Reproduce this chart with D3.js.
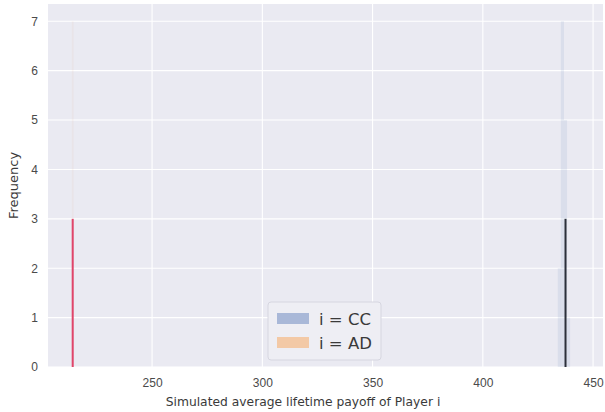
<!DOCTYPE html>
<html>
<head>
<meta charset="utf-8">
<script src="https://cdn.jsdelivr.net/npm/d3@7"></script>
<style>
  html, body { margin: 0; padding: 0; background: #ffffff; }
  svg { display: block; font-family: "DejaVu Sans", sans-serif; }
</style>
</head>
<body>
<svg id="chart" width="605" height="412"></svg>
<script>
// Histogram of simulated average lifetime payoffs for two strategies
const ccBinEdges = [434.0, 435.4, 436.8, 438.2, 439.6];
const ccCounts   = [2, 7, 5, 1];
const adBinEdges = [213.6, 214.4];
const adCounts   = [7];
const ccMean = 437.5;
const adMean = 214.0;
const meanLineHeight = 3;

const xTicks = [250, 300, 350, 400, 450];
const yTicks = [0, 1, 2, 3, 4, 5, 6, 7];
const legendLabels = ["i = CC", "i = AD"];

const plot = { left: 48, right: 603, top: 4, bottom: 367 };

const svg = d3.select("#chart");

const x = d3.scaleLinear().domain([202.8, 454.5]).range([plot.left, plot.right]);
const y = d3.scaleLinear().domain([0, 7.35]).range([plot.bottom, plot.top]);

// plot background
svg.append("rect")
  .attr("x", plot.left).attr("y", plot.top)
  .attr("width", plot.right - plot.left).attr("height", plot.bottom - plot.top)
  .attr("fill", "#eaeaf2");

// gridlines
const grid = svg.append("g");
grid.selectAll("line.gx").data(xTicks).join("line")
  .attr("x1", d => x(d)).attr("x2", d => x(d))
  .attr("y1", plot.top).attr("y2", plot.bottom)
  .attr("stroke", "#ffffff").attr("stroke-width", 1.1);
grid.selectAll("line.gy").data(yTicks).join("line")
  .attr("x1", plot.left).attr("x2", plot.right)
  .attr("y1", d => y(d)).attr("y2", d => y(d))
  .attr("stroke", "#ffffff").attr("stroke-width", 1.1);

// histogram bars
function bars(edges, counts, color, opacity) {
  const data = counts.map((c, i) => ({ x0: edges[i], x1: edges[i + 1], n: c }));
  svg.append("g").selectAll("rect").data(data).join("rect")
    .attr("x", d => x(d.x0))
    .attr("width", d => Math.max(0.8, x(d.x1) - x(d.x0)))
    .attr("y", d => y(d.n))
    .attr("height", d => y(0) - y(d.n))
    .attr("fill", color)
    .attr("fill-opacity", opacity);
}
bars(ccBinEdges, ccCounts, "#4c72b0", 0.1);
bars(adBinEdges, adCounts, "#dd8452", 0.06);

// mean markers
svg.append("line")
  .attr("x1", x(adMean)).attr("x2", x(adMean))
  .attr("y1", y(0)).attr("y2", y(meanLineHeight))
  .attr("stroke", "#e0456a").attr("stroke-width", 2);
svg.append("line")
  .attr("x1", x(ccMean)).attr("x2", x(ccMean))
  .attr("y1", y(0)).attr("y2", y(meanLineHeight))
  .attr("stroke", "#2b2f3a").attr("stroke-width", 2);

// axes
const xAxis = svg.append("g")
  .attr("transform", `translate(0,${plot.bottom})`)
  .call(d3.axisBottom(x).tickValues(xTicks).tickSize(0).tickPadding(11));
const yAxis = svg.append("g")
  .attr("transform", `translate(${plot.left},0)`)
  .call(d3.axisLeft(y).tickValues(yTicks).tickSize(0).tickPadding(10));
[xAxis, yAxis].forEach(a => {
  a.select(".domain").remove();
  a.selectAll("text").attr("fill", "#4a4a4a").style("font-size", "12px");
});

// axis titles
svg.append("text")
  .attr("x", 303).attr("y", 406)
  .attr("text-anchor", "middle").attr("fill", "#3a3a3a")
  .style("font-size", "12.3px")
  .text("Simulated average lifetime payoff of Player i");
svg.append("text")
  .attr("transform", `translate(18,${(plot.top + plot.bottom) / 2}) rotate(-90)`)
  .attr("text-anchor", "middle").attr("fill", "#3a3a3a")
  .style("font-size", "13px")
  .text("Frequency");

// legend
const lg = svg.append("g").attr("transform", "translate(268,302)");
lg.append("rect")
  .attr("width", 113).attr("height", 58).attr("rx", 3)
  .attr("fill", "#eeeef4").attr("stroke", "#d6d6e0").attr("stroke-width", 1);
const legendColors = ["#a9b8d8", "#f3c9a6"];
legendLabels.forEach((t, i) => {
  lg.append("rect")
    .attr("x", 9).attr("y", 11 + i * 24)
    .attr("width", 32).attr("height", 11)
    .attr("fill", legendColors[i]);
  lg.append("text")
    .attr("x", 51).attr("y", 22.5 + i * 24)
    .attr("fill", "#3a3a3a").style("font-size", "16.5px")
    .text(t);
});
</script>
</body>
</html>
